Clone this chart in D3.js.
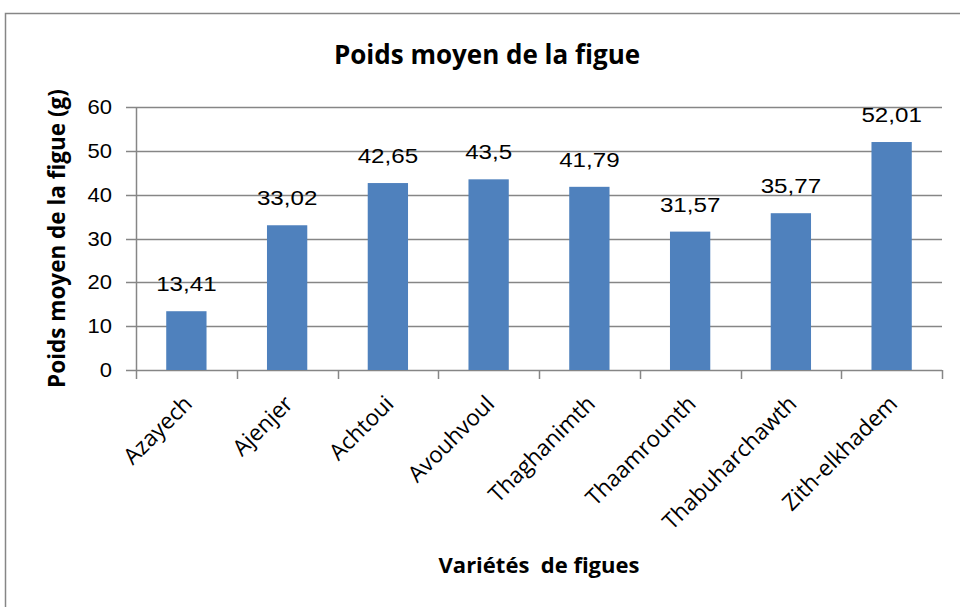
<!DOCTYPE html>
<html>
<head>
<meta charset="utf-8">
<script src="https://cdn.jsdelivr.net/npm/d3@7"></script>
<style>
  body { margin: 0; background: #fff; }
  svg text { fill: #000; }
</style>
</head>
<body>
<main></main>
<script>
// data
const varietes = ["Azayech", "Ajenjer", "Achtoui", "Avouhvoul", "Thaghanimth", "Thaamrounth", "Thabuharchawth", "Zith-elkhadem"];
const poids = [13.41, 33.02, 42.65, 43.5, 41.79, 31.57, 35.77, 52.01];
const yTicks = [0, 10, 20, 30, 40, 50, 60];

const width = 960, height = 607;
const plotLeft = 136, plotRight = 942, plotTop = 107, plotBottom = 370;

const svg = d3.select("main")
  .append("svg")
  .attr("width", width)
  .attr("height", height);

// outer frame
svg.append("rect")
  .attr("x", 5.5).attr("y", 13.5)
  .attr("width", 1000).attr("height", 700)
  .attr("fill", "none")
  .attr("stroke", "#868686")
  .attr("stroke-width", 1.5);

const x = d3.scaleBand()
  .domain(varietes)
  .range([plotLeft, plotRight])
  .paddingInner(0.6)
  .paddingOuter(0.3);

const y = d3.scaleLinear()
  .domain([0, 60])
  .range([plotBottom, plotTop]);

// gridlines
svg.append("g")
  .selectAll("line")
  .data(yTicks)
  .enter()
  .append("line")
  .attr("x1", plotLeft - 10)
  .attr("x2", plotRight)
  .attr("y1", d => Math.round(y(d)) + 0.5)
  .attr("y2", d => Math.round(y(d)) + 0.5)
  .attr("stroke", "#868686")
  .attr("stroke-width", 1.5);

// y axis line
svg.append("line")
  .attr("x1", plotLeft + 0.5).attr("x2", plotLeft + 0.5)
  .attr("y1", plotTop).attr("y2", plotBottom)
  .attr("stroke", "#868686")
  .attr("stroke-width", 1.5);

// y tick labels
svg.append("g")
  .selectAll("text")
  .data(yTicks)
  .enter()
  .append("text")
  .attr("transform", d => `translate(${plotLeft - 24},${y(d) + 7}) scale(1.1,1)`)
  .attr("text-anchor", "end")
  .style("font-family", "Liberation Sans, Arial, sans-serif")
  .style("font-size", "20px")
  .text(d => d);

// x category ticks
const step = x.step();
const bounds = d3.range(varietes.length + 1).map(i => plotLeft + i * step);
svg.append("g")
  .selectAll("line")
  .data(bounds)
  .enter()
  .append("line")
  .attr("x1", d => Math.round(d) + 0.5)
  .attr("x2", d => Math.round(d) + 0.5)
  .attr("y1", plotBottom)
  .attr("y2", plotBottom + 9)
  .attr("stroke", "#868686")
  .attr("stroke-width", 1.5);

// bars
svg.append("g")
  .selectAll("rect")
  .data(poids)
  .enter()
  .append("rect")
  .attr("x", (d, i) => x(varietes[i]))
  .attr("y", d => y(d))
  .attr("width", x.bandwidth())
  .attr("height", d => y(0) - y(d))
  .attr("fill", "#4f81bd");

// data labels
svg.append("g")
  .selectAll("text")
  .data(poids)
  .enter()
  .append("text")
  .attr("transform", (d, i) => `translate(${x(varietes[i]) + x.bandwidth() / 2},${y(d) - 20}) scale(1.15,1)`)
  .attr("text-anchor", "middle")
  .style("font-family", "Liberation Sans, Arial, sans-serif")
  .style("font-size", "21px")
  .text(d => String(d).replace(".", ","));

// category labels
svg.append("g")
  .selectAll("text")
  .data(varietes)
  .enter()
  .append("text")
  .attr("transform", d => `translate(${x(d) + x.bandwidth() / 2 - 4},${plotBottom + 24}) rotate(-45)`)
  .attr("text-anchor", "end")
  .attr("dy", "0.7em")
  .style("font-family", "Open Sans, sans-serif")
  .style("font-size", "22.5px")
  .text(d => d);

// title
svg.append("text")
  .attr("x", 487)
  .attr("y", 64)
  .attr("text-anchor", "middle")
  .style("font-family", "Open Sans, sans-serif")
  .style("font-weight", "bold")
  .style("font-size", "26px")
  .text("Poids moyen de la figue");

// axis titles
svg.append("text")
  .attr("transform", `translate(65,${(plotTop + plotBottom) / 2}) rotate(-90)`)
  .attr("text-anchor", "middle")
  .style("font-family", "Open Sans, sans-serif")
  .style("font-weight", "bold")
  .style("font-size", "22.5px")
  .text("Poids moyen de la figue (g)");

svg.append("text")
  .attr("x", (plotLeft + plotRight) / 2)
  .attr("y", 573)
  .attr("text-anchor", "middle")
  .style("font-family", "Open Sans, sans-serif")
  .style("font-weight", "bold")
  .style("font-size", "22px")
  .style("white-space", "pre")
  .text("Variétés  de figues");
</script>
</body>
</html>
